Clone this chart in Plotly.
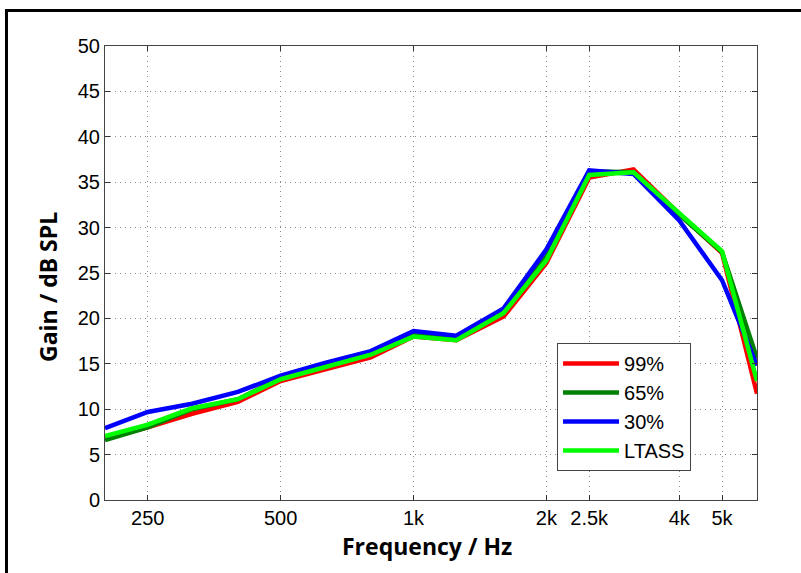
import numpy as np
import plotly.graph_objects as go

freqs = [200, 250, 315, 400, 500, 630, 800, 1000, 1250, 1600, 2000, 2500, 3150, 4000, 5000, 6000]
gain_99 = [6.8, 8.0, 9.5, 10.8, 13.1, 14.4, 15.7, 18.0, 17.6, 20.2, 26.1, 35.5, 36.4, 31.5, 27.2, 11.7]
gain_65 = [6.6, 8.0, 10.0, 11.1, 13.4, 14.7, 16.1, 18.2, 17.7, 20.8, 26.8, 36.2, 36.1, 31.4, 27.3, 15.6]
gain_30 = [7.9, 9.7, 10.6, 11.9, 13.7, 15.1, 16.4, 18.6, 18.1, 21.1, 27.6, 36.3, 35.9, 30.8, 24.2, 14.8]
gain_ltass = [7.05, 8.3, 10.1, 11.1, 13.3, 14.6, 16.0, 18.0, 17.6, 20.6, 26.4, 35.8, 36.1, 31.6, 27.4, 13.1]

series_names = ["99%", "65%", "30%", "LTASS"]
series_colors = ["#ff0000", "#008000", "#0000ff", "#00ff00"]

x_tickvals = [250, 500, 1000, 2000, 2500, 4000, 5000]
x_ticktext = ["250", "500", "1k", "2k", "2.5k", "4k", "5k"]
y_tickvals = list(range(0, 51, 5))

fig = go.Figure()
for name, ys, col in zip(series_names, [gain_99, gain_65, gain_30, gain_ltass], series_colors):
    fig.add_trace(go.Scatter(x=freqs, y=ys, mode="lines", name=name,
                             line=dict(color=col, width=4.5)))

tick_font = dict(family="Liberation Sans, Arial, sans-serif", size=20, color="black")
title_font = dict(family="Open Sans, sans-serif", size=23, color="black")

fig.update_layout(
    width=801, height=573,
    margin=dict(l=105, r=44, t=46, b=73),
    paper_bgcolor="white", plot_bgcolor="white",
    showlegend=True,
    legend=dict(x=0.6933, y=0.3458, xanchor="left", yanchor="top",
                bgcolor="white", bordercolor="#444444", borderwidth=1,
                font=dict(family="Liberation Sans, Arial, sans-serif", size=20, color="black"),
                itemwidth=56, tracegroupgap=0),
    xaxis=dict(type="log", range=[np.log10(200), np.log10(6000)],
               tickvals=x_tickvals, ticktext=x_ticktext, tickfont=tick_font,
               showgrid=True, gridcolor="#888888", griddash="1px,4px", gridwidth=1,
               showline=True, linecolor="#444444", linewidth=1, mirror="ticks",
               ticks="inside", ticklen=5, tickcolor="#333333", zeroline=False),
    yaxis=dict(range=[0, 50], tickvals=y_tickvals, tickfont=tick_font,
               showgrid=True, gridcolor="#888888", griddash="1px,4px", gridwidth=1,
               showline=True, linecolor="#444444", linewidth=1, mirror="ticks",
               ticks="inside", ticklen=5, tickcolor="#333333", zeroline=False),
    shapes=[dict(type="rect", xref="paper", yref="paper",
                 x0=-0.1511, x1=1.2, y0=-0.3, y1=1.0782,
                 line=dict(color="black", width=3), fillcolor="rgba(0,0,0,0)", layer="above")],
    annotations=[
        dict(text="<b>Frequency / Hz</b>", xref="paper", yref="paper",
             x=(427 - 105) / 652, y=(500 - 546) / 454, xanchor="center", yanchor="middle",
             showarrow=False, font=title_font),
        dict(text="<b>Gain / dB SPL</b>", xref="paper", yref="paper",
             x=(48 - 105) / 652, y=(500 - 287) / 454, xanchor="center", yanchor="middle",
             textangle=-90, showarrow=False, font=title_font),
    ],
)

fig.write_html("out.html")
